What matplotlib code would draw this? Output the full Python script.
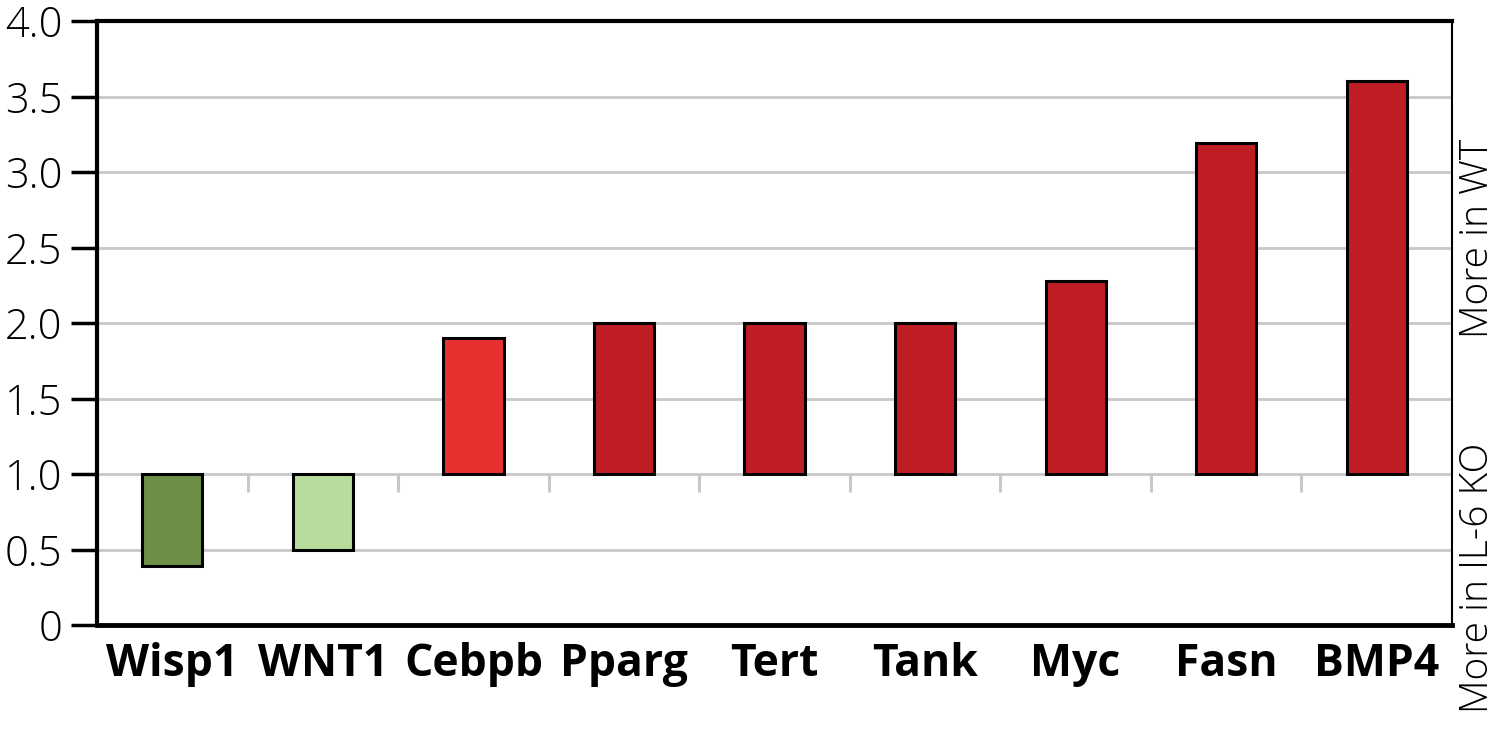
import matplotlib
matplotlib.use("Agg")
import matplotlib.pyplot as plt
import numpy as np

categories = ["Wisp1", "WNT1", "Cebpb", "Pparg", "Tert", "Tank", "Myc", "Fasn", "BMP4"]
values = [0.39, 0.50, 1.90, 2.00, 2.00, 2.00, 2.28, 3.19, 3.60]
baseline = 1.0
colors = ["#6e8f47", "#b8dc9b", "#e83030", "#be1e24", "#be1e24", "#be1e24", "#be1e24", "#be1e24", "#be1e24"]
yticks = [0, 0.5, 1.0, 1.5, 2.0, 2.5, 3.0, 3.5, 4.0]
ytick_labels = ["0", "0.5", "1.0", "1.5", "2.0", "2.5", "3.0", "3.5", "4.0"]

plt.rcParams['font.family'] = ['Open Sans', 'DejaVu Sans']

fig = plt.figure(figsize=(15, 7.4), dpi=100)
ax = fig.add_axes([97/1500, 1-625/740, (1452-97)/1500, (625-21)/740])

x = np.arange(len(categories))
heights = [v - baseline for v in values]
ax.bar(x, heights, bottom=baseline, width=0.4, color=colors, edgecolor="black", linewidth=2.2, zorder=3)

ax.set_xlim(-0.5, len(categories) - 0.5)
ax.set_ylim(0, 4.0)
ax.set_yticks(yticks)
ax.set_yticklabels(ytick_labels, fontsize=30, fontweight='light')
ax.tick_params(axis='y', length=19, width=2.5, pad=6, direction='out')
for g in yticks[1:-1]:
    ax.axhline(g, color="#c8c8c8", linewidth=2, zorder=1)

# category divider ticks at baseline
for b in np.arange(0.5, len(categories) - 1, 1.0):
    ax.plot([b, b], [baseline, baseline - 0.12], color="#c8c8c8", linewidth=2.2, zorder=2, solid_capstyle='butt')

ax.set_xticks(x)
ax.set_xticklabels(categories, fontsize=32, fontweight='bold')
ax.tick_params(axis='x', length=0, pad=12)

ax.spines['left'].set_linewidth(3)
ax.spines['bottom'].set_linewidth(3.5)
ax.spines['top'].set_linewidth(3)
ax.spines['right'].set_linewidth(1.5)
for s in ax.spines.values():
    s.set_color("black")

fig.text(1478/1500, 1-238/740, "More in WT", rotation=90, ha='center', va='center', fontsize=28, fontweight='light')
fig.text(1478/1500, 1-578/740, "More in IL-6 KO", rotation=90, ha='center', va='center', fontsize=28, fontweight='light')

fig.savefig("out.png", dpi=100)
